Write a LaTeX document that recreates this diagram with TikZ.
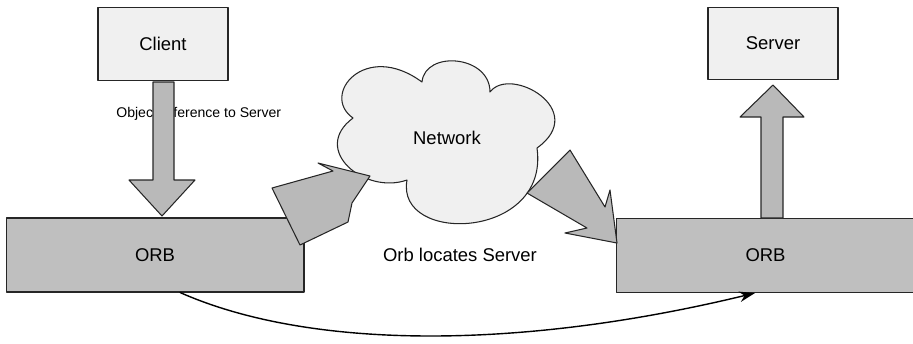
\documentclass[tikz,border=0pt]{standalone}
\usepackage{fontspec}
\setmainfont{Liberation Sans}
\usetikzlibrary{calc,arrows.meta}

\begin{document}
\begin{tikzpicture}[x=0.02cm, y=-0.02cm, line join=round, line cap=round]
	\tikzset{
		lightbox/.style={draw=black!85, fill=gray!12, line width=0.6pt,
			minimum width=2.6cm, minimum height=1.45cm, inner sep=0pt,
			font=\fontsize{10.5}{12}\selectfont},
		orbbox/.style={draw=black!85, fill=gray!50, line width=0.6pt,
			minimum height=1.48cm, inner sep=0pt,
			font=\fontsize{10.5}{12}\selectfont},
		blockarrow/.style={draw=black!85, fill=gray!55, line width=0.6pt},
		label text/.style={inner sep=0pt, font=\fontsize{10.5}{12}\selectfont}
	}
	\useasboundingbox (0,0) rectangle (913,343);
	
	% --- 1. 网络云 ---
	\coordinate (Na) at (353,118);
	\coordinate (Nb) at (422,82);
	\coordinate (Nc) at (490,92);
	\coordinate (Nd) at (537,148);
	\coordinate (Ne) at (407,180);
	\draw[draw=black!85, fill=gray!12, line width=0.6pt]
		(Na) .. controls (320,95) and (365,40) .. (Nb)
		     .. controls (425,50) and (490,55) .. (Nc)
		     .. controls (510,65) and (590,110) .. (Nd)
		     .. controls (550,240) and (395,245) .. (Ne)
		     .. controls (365,195) and (310,150) .. (Na) -- cycle;
	\node[label text] (net) at (447,138) {Network};
	
	% --- 2. 方框 ---
	\node[orbbox, minimum width=5.96cm] (orbL) at (155,255) {ORB};
	\node[orbbox, minimum width=5.98cm] (orbR) at (765.5,255.5) {ORB};
	\node[lightbox] (client) at (163,44) {Client};
	\node[lightbox] (server) at (773,43.5) {Server};
	
	% --- 3. 文字 ---
	\node[inner sep=0pt, anchor=west, font=\fontsize{8}{9}\selectfont] (objref) at (116,114) {Object reference to Server};
	\node[label text] (locate) at (460,255) {Orb locates Server};
	
	% --- 4. 粗箭头 ---
	% Client -> ORB
	\draw[blockarrow] (153,82) -- (174,82) -- (174,180) -- (195,180) -- (162,216)
		-- (129,180) -- (153,180) -- cycle;
	% ORB -> Server
	\draw[blockarrow] (761,218) -- (761,117) -- (740,117) -- (773,85) -- (804,117)
		-- (783,117) -- (783,218) -- cycle;
	% ORB -> 网络
	\draw[blockarrow] (272,188) -- (333,171) -- (318,163) -- (370,176) -- (352,203)
		-- (348,222) -- (300,245) -- cycle;
	% 网络 -> ORB
	\draw[blockarrow] (527,193) -- (570,150) -- (605,207) -- (610,190) -- (617,243)
		-- (565,233) -- (587,228) -- cycle;
	
	% --- 5. 弧形箭头 ---
	\draw[-{Stealth[length=9pt,width=6pt]}, line width=0.8pt]
		($(orbL.south west)!0.584!(orbL.south east)$) .. controls (310,350) and (520,350)
		.. ($(orbR.south west)!0.465!(orbR.south east)$);
	
\end{tikzpicture}
\end{document}
